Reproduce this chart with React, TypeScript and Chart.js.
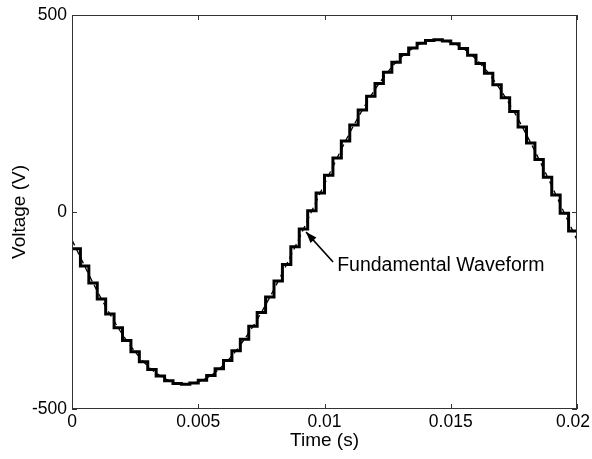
import React, { useEffect, useRef } from "react";
import { Chart, registerables } from "chart.js";

Chart.register(...registerables);

// Fundamental waveform samples (every 0.5 ms, 0 .. 0.02 s)
const fundTimes = [
  0, 0.0005, 0.001, 0.0015, 0.002, 0.0025, 0.003, 0.0035, 0.004, 0.0045,
  0.005, 0.0055, 0.006, 0.0065, 0.007, 0.0075, 0.008, 0.0085, 0.009, 0.0095,
  0.01, 0.0105, 0.011, 0.0115, 0.012, 0.0125, 0.013, 0.0135, 0.014, 0.0145,
  0.015, 0.0155, 0.016, 0.0165, 0.017, 0.0175, 0.018, 0.0185, 0.019, 0.0195, 0.02,
];
const fundValues = [
  -71, -137, -201, -259, -311, -355, -391, -416, -432, -437,
  -431, -415, -388, -352, -307, -255, -196, -133, -66, 3,
  71, 137, 201, 259, 311, 355, 391, 416, 432, 437,
  431, 415, 388, 352, 307, 255, 196, 133, 66, -3, -71,
];

// Staircase output voltage: 60 held levels across one 20 ms period
const stairValues = [
  -93, -137, -180, -221, -259, -294, -326, -355, -380, -400,
  -416, -428, -435, -437, -434, -427, -415, -398, -377, -352,
  -323, -290, -255, -216, -175, -133, -88, -43, 3, 48,
  93, 137, 180, 221, 259, 294, 326, 355, 380, 400,
  416, 428, 435, 437, 434, 427, 415, 398, 377, 352,
  323, 290, 255, 216, 175, 133, 88, 43, -3, -48,
];
const periodEnd = 0.02;

const xTickValues = [0, 0.005, 0.01, 0.015, 0.02];
const xTickLabels = ["0", "0.005", "0.01", "0.015", "0.02"];
const yTickValues = [-500, 0, 500];
const yTickLabels = ["-500", "0", "500"];
const annotationText = "Fundamental Waveform";
const arrowTip = { t: 0.00927, v: -51 };
const arrowTail = { t: 0.01034, v: -127 };
const textAnchor = { t: 0.0105, v: -135 };

const FONT = "'Liberation Sans', Arial, Helvetica, sans-serif";

export default function App() {
  const ref = useRef<HTMLCanvasElement | null>(null);

  useEffect(() => {
    document.body.style.margin = "0";
    const canvas = ref.current;
    if (!canvas) return;

    const stepW = periodEnd / stairValues.length;
    const stairData = stairValues.map((v, i) => ({ x: i * stepW, y: v }));
    stairData.push({ x: periodEnd, y: stairValues[stairValues.length - 1] });
    const fundData = fundTimes.map((t, i) => ({ x: t, y: fundValues[i] }));

    const framePlugin = {
      id: "frame",
      afterDraw(chart: any) {
        const { ctx, chartArea: a, scales, width } = chart;
        ctx.save();
        ctx.strokeStyle = "#333";
        ctx.lineWidth = 1;
        ctx.strokeRect(a.left + 0.5, a.top + 0.5, a.right - a.left - 1, a.bottom - a.top - 1);
        const tl = 5;
        ctx.beginPath();
        scales.x.ticks.forEach((tk: any) => {
          const px = Math.round(scales.x.getPixelForValue(tk.value)) + 0.5;
          ctx.moveTo(px, a.bottom);
          ctx.lineTo(px, a.bottom - tl);
          ctx.moveTo(px, a.top);
          ctx.lineTo(px, a.top + tl);
        });
        scales.y.ticks.forEach((tk: any) => {
          const py = Math.round(scales.y.getPixelForValue(tk.value)) + 0.5;
          ctx.moveTo(a.left, py);
          ctx.lineTo(a.left + tl, py);
          ctx.moveTo(a.right, py);
          ctx.lineTo(a.right - tl, py);
        });
        ctx.stroke();

        // x tick labels (kept inside the canvas)
        ctx.fillStyle = "#000";
        ctx.font = `17.5px ${FONT}`;
        ctx.textBaseline = "top";
        ctx.textAlign = "center";
        xTickValues.forEach((v, i) => {
          const label = xTickLabels[i];
          const w = ctx.measureText(label).width;
          let px = scales.x.getPixelForValue(v);
          if (px + w / 2 > width - 2) px = width - 2 - w / 2;
          ctx.fillText(label, px, a.bottom + 4);
        });

        // annotation arrow
        const x = scales.x, y = scales.y;
        const tipX = x.getPixelForValue(arrowTip.t), tipY = y.getPixelForValue(arrowTip.v);
        const tailX = x.getPixelForValue(arrowTail.t), tailY = y.getPixelForValue(arrowTail.v);
        ctx.strokeStyle = "#000";
        ctx.lineWidth = 1.6;
        ctx.beginPath();
        ctx.moveTo(tailX, tailY);
        ctx.lineTo(tipX, tipY);
        ctx.stroke();
        const ang = Math.atan2(tipY - tailY, tipX - tailX);
        const hl = 11, hw = 4;
        ctx.beginPath();
        ctx.moveTo(tipX, tipY);
        ctx.lineTo(tipX - hl * Math.cos(ang) + hw * Math.sin(ang), tipY - hl * Math.sin(ang) - hw * Math.cos(ang));
        ctx.lineTo(tipX - hl * Math.cos(ang) - hw * Math.sin(ang), tipY - hl * Math.sin(ang) + hw * Math.cos(ang));
        ctx.closePath();
        ctx.fill();

        ctx.font = `19.5px ${FONT}`;
        ctx.textAlign = "left";
        ctx.textBaseline = "middle";
        ctx.fillText(annotationText, x.getPixelForValue(textAnchor.t), y.getPixelForValue(textAnchor.v));
        ctx.restore();
      },
    };

    const chart = new Chart(canvas, {
      type: "line",
      data: {
        datasets: [
          {
            label: "Staircase",
            data: stairData,
            stepped: "before",
            borderColor: "#000",
            borderWidth: 3,
            pointRadius: 0,
            fill: false,
          },
          {
            label: "Fundamental",
            data: fundData,
            borderColor: "#000",
            borderWidth: 1.3,
            borderDash: [6, 4],
            pointRadius: 0,
            cubicInterpolationMode: "monotone",
            fill: false,
          },
        ],
      },
      options: {
        responsive: false,
        animation: false,
        events: [],
        layout: { padding: { left: 0, right: 15, top: 15, bottom: 0 } },
        plugins: { legend: { display: false }, tooltip: { enabled: false } },
        scales: {
          x: {
            type: "linear",
            min: 0,
            max: 0.02,
            grid: { display: false, drawTicks: false },
            border: { display: false },
            afterFit: (s: any) => {
              s.height = 50;
              s.paddingLeft = 0;
              s.paddingRight = 0;
            },
            afterBuildTicks: (s: any) => {
              s.ticks = xTickValues.map((v) => ({ value: v }));
            },
            ticks: {
              maxRotation: 0,
              autoSkip: false,
              padding: 3,
              color: "rgba(0,0,0,0)",
              font: { family: FONT, size: 17.5 },
              callback: (_v: any, i: number) => xTickLabels[i],
            },
            title: {
              display: true,
              text: "Time (s)",
              color: "#000",
              font: { family: FONT, size: 19 },
              padding: { top: 0, bottom: 7 },
            },
          },
          y: {
            type: "linear",
            min: -500,
            max: 500,
            grid: { display: false, drawTicks: false },
            border: { display: false },
            afterFit: (s: any) => {
              s.width = 72;
              s.paddingTop = 0;
              s.paddingBottom = 0;
            },
            afterBuildTicks: (s: any) => {
              s.ticks = yTickValues.map((v) => ({ value: v }));
            },
            ticks: {
              padding: 5,
              color: "#000",
              font: { family: FONT, size: 17.5 },
              callback: (_v: any, i: number) => yTickLabels[i],
            },
            title: {
              display: true,
              text: "Voltage (V)",
              color: "#000",
              font: { family: FONT, size: 19 },
              padding: { top: 8, bottom: 0 },
            },
          },
        },
      },
      plugins: [framePlugin],
    } as any);

    return () => chart.destroy();
  }, []);

  return (
    <div style={{ width: 592, height: 459, background: "#fff" }}>
      <canvas ref={ref} width={592} height={459} style={{ display: "block" }} />
    </div>
  );
}
